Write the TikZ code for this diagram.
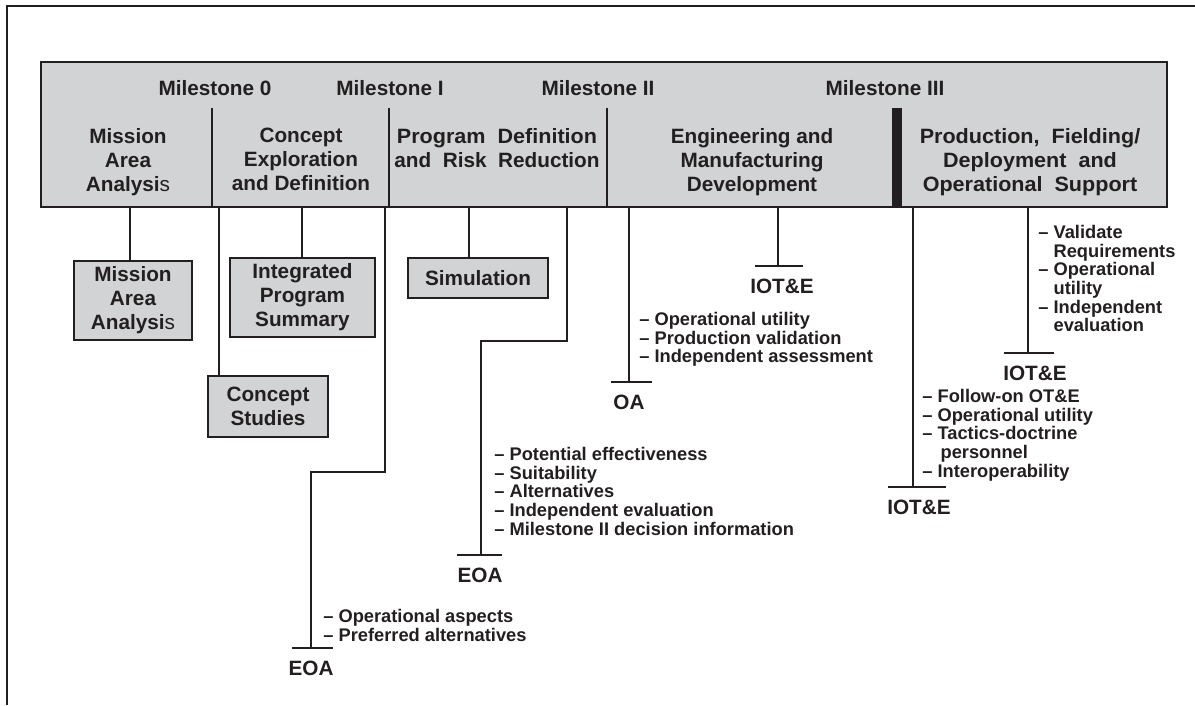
\documentclass[tikz,border=0pt]{standalone}
\usepackage{graphicx}
\usepackage{fontspec}
\setmainfont{Liberation Sans}
\usetikzlibrary{calc}
\definecolor{barGray}{HTML}{D1D3D4}
\definecolor{inkDark}{HTML}{231F20}
\newcommand{\wideline}[1]{\scalebox{1.04}[1]{#1}}
\tikzset{
  link/.style={draw=inkDark, line width=0.45mm},
  milestone/.style={font=\fontsize{11.8}{13.7}\selectfont\bfseries, text=inkDark, inner sep=0, anchor=base},
  phase/.style={font=\fontsize{11.8}{13.7}\selectfont\bfseries, text=inkDark, inner sep=0, align=center, anchor=north},
  studybox/.style={draw=inkDark, fill=barGray, line width=0.45mm, inner sep=0, align=center,
    font=\fontsize{11.8}{13.7}\selectfont\bfseries, text=inkDark},
  tlabel/.style={font=\fontsize{11.8}{13.7}\selectfont\bfseries, text=inkDark, anchor=north,
    inner xsep=0, inner ysep=6.8pt, text height=8.6pt},
  points/.style={font=\fontsize{10.4}{10.6}\selectfont\bfseries, text=inkDark, inner sep=0,
    align=left, anchor=north west},
}

\begin{document}
\begin{tikzpicture}[x=0.2mm, y=-0.2mm]
\useasboundingbox (0,0) rectangle (1195,705);

% frame
\draw[link] (7,705) -- (7,6) -- (1195,6);

% phase bar
\draw[link, fill=barGray] (41,62) rectangle (1167,207);
\draw[link] (212,108) -- (212,207);
\draw[link] (389,108) -- (389,207);
\draw[link] (607,108) -- (607,207);
\fill[inkDark] (892,108) rectangle (902,207);

\node[milestone] (ms0) at (215,95) {Milestone 0};
\node[milestone] (ms1) at (390,95) {Milestone I};
\node[milestone] (ms2) at (598,95) {Milestone II};
\node[milestone] (ms3) at (885,95) {Milestone III};

\node[phase] (phMaa) at (128,128) {Mission\\Area\\Analysi{\mdseries s}};
\node[phase] (phCed) at (301,128) {Concept\\Exploration\\and Definition};
\node[phase] (phPdrr) at (497,128) {\wideline{Program\ \ Definition}\\and\ \ Risk\ \ Reduction};
\node[phase] (phEmd) at (752,128) {Engineering and\\Manufacturing\\Development};
\node[phase] (phPfd) at (1030,128) {\wideline{Production,\ \ Fielding/}\\\wideline{Deployment\ \ and}\\\wideline{Operational\ \ Support}};

% boxes under the bar
\node[studybox, minimum width=23.6mm, minimum height=15.8mm] (maa) at (133,300.5) {Mission\\Area\\Analysi{\mdseries s}};
\node[studybox, minimum width=29mm, minimum height=15.8mm] (ips) at (302.5,297.5) {Integrated\\Program\\Summary};
\node[studybox, minimum width=28mm, minimum height=8mm] (sim) at (478,278) {Simulation};
\node[studybox, minimum width=24mm, minimum height=12.2mm] (cs) at (268,406.5) {Concept\\Studies};

\coordinate (tapMaa) at (130,207);
\coordinate (tapCs) at (219,207);
\coordinate (tapIps) at (302,207);
\coordinate (tapEoaA) at (385,207);
\coordinate (tapSim) at (469,207);
\coordinate (tapEoaB) at (567,207);
\coordinate (tapOa) at (629,207);
\coordinate (tapIotA) at (778,207);
\coordinate (tapIotB) at (913,207);
\coordinate (tapIotC) at (1028,207);

\draw[link] (tapMaa) -- (tapMaa |- maa.north);
\draw[link] (tapCs) -- (tapCs |- cs.north);
\draw[link] (tapIps) -- (tapIps |- ips.north);
\draw[link] (tapSim) -- (tapSim |- sim.north);

% test events
\node[tlabel] (eoaA) at (311,648) {EOA};
\node[tlabel] (eoaB) at (480,555) {EOA};
\node[tlabel] (oa) at (629,382) {OA};
\node[tlabel] (iotA) at (782,266) {IOT\&E};
\node[tlabel] (iotB) at (919,487) {IOT\&E};
\node[tlabel] (iotC) at (1035,353) {IOT\&E};

\draw[link] (tapEoaA) -- ++(0,265) -| (eoaA.north);
\draw[link] (tapEoaB) -- ++(0,134) -| ($(eoaB.north)+(1,0)$);
\draw[link] (tapOa) -- (oa.north);
\draw[link] (tapIotA) -- (tapIotA |- iotA.north);
\draw[link] (tapIotB) -- (tapIotB |- iotB.north);
\draw[link] (tapIotC) -- (tapIotC |- iotC.north);

\draw[link] ($(eoaA.north)+(-19,0)$) -- ++(41,0);
\draw[link] ($(eoaB.north)+(-23,0)$) -- ++(45,0);
\draw[link] ($(oa.north)+(-18,0)$) -- ++(41,0);
\draw[link] ($(iotA.north)+(-27,0)$) -- ++(48,0);
\draw[link] ($(iotB.north)+(-31,0)$) -- ++(58,0);
\draw[link] ($(iotC.north)+(-31,0)$) -- ++(50,0);

\node[points] (lsEoaA) at (323,609) {-- Operational aspects\\-- Preferred alternatives};
\node[points] (lsEoaB) at (494,447) {-- Potential effectiveness\\-- Suitability\\-- Alternatives\\-- Independent evaluation\\-- Milestone II decision information};
\node[points] (lsOa) at (639,312) {-- Operational utility\\-- Production validation\\-- Independent assessment};
\node[points] (lsIotB) at (922,389) {-- Follow-on OT\&E\\-- Operational utility\\-- Tactics-doctrine\\\phantom{-- }\,personnel\\-- Interoperability};
\node[points] (lsIotC) at (1038,225) {-- Validate\\\phantom{-- }Requirements\\-- Operational\\\phantom{-- }utility\\-- Independent\\\phantom{-- }evaluation};
\end{tikzpicture}
\end{document}
